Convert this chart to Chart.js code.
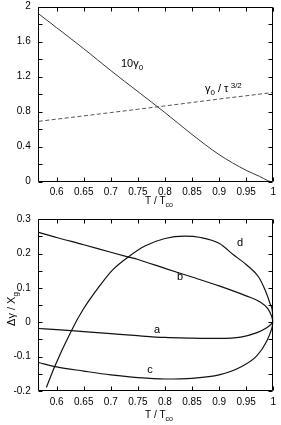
<!DOCTYPE html>
<html><head><meta charset="utf-8">
<script src="https://cdn.jsdelivr.net/npm/chart.js@4/dist/chart.umd.min.js"></script>
<style>
html,body{margin:0;padding:0;background:#fff;width:281px;height:425px;overflow:hidden}
#c1{position:absolute;left:0;top:0}
#c2{position:absolute;left:0;top:210px}
</style></head><body>
<canvas id="c1" width="281" height="210"></canvas>
<canvas id="c2" width="281" height="215"></canvas>
<script>
// ---- data ----
const gammaT  = [0.567,0.6,0.65,0.7,0.75,0.8,0.85,0.9,0.95,0.975,0.99,0.995];
const gamma10 = [1.917,1.76,1.52,1.27,1.03,0.79,0.54,0.31,0.13,0.06,0.012,0.0];
const ratioT  = [0.567,0.6,0.65,0.7,0.75,0.8,0.85,0.9,0.95,1.0];
const ratioV  = [0.69,0.715,0.752,0.79,0.828,0.866,0.905,0.945,0.982,1.02];

const aT = [0.567,0.6,0.65,0.7,0.75,0.8,0.85,0.9,0.94,0.97,0.988,1.0];
const aV = [-0.018,-0.021,-0.027,-0.033,-0.039,-0.044,-0.046,-0.047,-0.043,-0.03,-0.016,0.0];
const bT = [0.567,0.6,0.65,0.7,0.733,0.75,0.8,0.85,0.9,0.95,0.975,0.99,0.997,1.0];
const bV = [0.262,0.247,0.226,0.204,0.19,0.183,0.157,0.132,0.106,0.077,0.06,0.04,0.018,0.0];
const cT = [0.567,0.6,0.65,0.7,0.75,0.8,0.85,0.9,0.94,0.97,0.988,0.997,1.0];
const cV = [-0.117,-0.13,-0.142,-0.153,-0.161,-0.165,-0.163,-0.153,-0.13,-0.097,-0.055,-0.02,0.0];
const dT = [0.581,0.596,0.627,0.648,0.678,0.703,0.733,0.763,0.8,0.836,0.866,0.9,0.927,0.951,0.973,0.985,0.994,0.999,1.0];
const dV = [-0.19,-0.13,-0.025,0.035,0.103,0.152,0.191,0.222,0.244,0.251,0.247,0.23,0.196,0.167,0.132,0.094,0.055,0.025,0.0];

const xTicks = [0.6,0.65,0.7,0.75,0.8,0.85,0.9,0.95,1];
const xTickLabels = ['0.6','0.65','0.7','0.75','0.8','0.85','0.9','0.95','1'];
const yTicksTop = [0,0.2,0.4,0.6,0.8,1.0,1.2,1.4,1.6,1.8,2.0];
const yLabelsTop = {'0':'0','0.4':'0.4','0.8':'0.8','1.2':'1.2','1.6':'1.6','2':'2'};
const yTicksBot = [-0.2,-0.15,-0.1,-0.05,0,0.05,0.1,0.15,0.2,0.25,0.3];
const yLabelsBot = {'-0.2':'-0.2','-0.1':'-0.1','0':'0','0.1':'0.1','0.2':'0.2','0.3':'0.3'};

const X_MIN = 0.565, X_MAX = 1.0;
const FONT = 'Liberation Sans, Arial, sans-serif';

function pts(xs, ys){ return xs.map((x,i)=>({x:x,y:ys[i]})); }

function rich(ctx, parts, x, y, size, align){
  let w = 0;
  const widths = parts.map(p=>{ ctx.font = (p[1]?Math.round(size*0.72):size)+'px '+FONT; const m=ctx.measureText(p[0]).width; w+=m; return m;});
  let cx = align==='center' ? x - w/2 : x;
  ctx.textBaseline = 'alphabetic'; ctx.textAlign='left'; ctx.fillStyle='#000';
  parts.forEach((p,i)=>{
    ctx.font = (p[1]?Math.round(size*0.72):size)+'px '+FONT;
    const dy = p[1]===1 ? size*0.3 : (p[1]===-1 ? -size*0.4 : 0);
    ctx.fillText(p[0], cx, y+dy);
    cx += widths[i];
  });
}

const framePlugin = {
  id:'frame',
  afterDraw(chart, args, opts){
    const ctx = chart.ctx, a = chart.chartArea, xs = chart.scales.x, ys = chart.scales.y;
    ctx.save();
    ctx.strokeStyle = '#000'; ctx.lineWidth = 1;
    ctx.beginPath();
    const L=Math.round(a.left)+0.5, R=Math.round(a.right)-0.5, T=Math.round(a.top)+0.5, B=Math.round(a.bottom)-0.5;
    ctx.rect(L,T,R-L,B-T);
    const tl = 4;
    xs.ticks.forEach(t=>{ const px=Math.round(xs.getPixelForValue(t.value))+0.5;
      ctx.moveTo(px,B); ctx.lineTo(px,B-tl); ctx.moveTo(px,T); ctx.lineTo(px,T+tl); });
    ys.ticks.forEach(t=>{ const py=Math.round(ys.getPixelForValue(t.value))+0.5;
      ctx.moveTo(L,py); ctx.lineTo(L+tl,py); ctx.moveTo(R,py); ctx.lineTo(R-tl,py); });
    ctx.stroke();
    if (opts.draw) opts.draw(chart, ctx);
    ctx.restore();
  }
};

function baseOptions(yMin, yMax, yTicks, yLabels, xH, padTop, drawFn){
  return {
    responsive:false, animation:false, devicePixelRatio:1,
    layout:{padding:{top:padTop,right:3.3,left:0,bottom:0}},
    plugins:{legend:{display:false}, tooltip:{enabled:false}, frame:{draw:drawFn}},
    elements:{point:{radius:0}, line:{tension:0.35, cubicInterpolationMode:'monotone'}},
    scales:{
      x:{type:'linear', min:X_MIN, max:X_MAX,
         afterBuildTicks:s=>{ s.ticks = xTicks.map(v=>({value:v})); },
         afterFit:s=>{ s.height = xH; },
         grid:{display:false, drawTicks:false}, border:{display:false},
         ticks:{padding:5, color:'#000', font:{family:FONT,size:10}, maxRotation:0, autoSkip:false,
           callback:(v)=>{ const i=xTicks.findIndex(t=>Math.abs(t-v)<1e-9); return i>=0?xTickLabels[i]:''; }}},
      y:{type:'linear', min:yMin, max:yMax,
         afterBuildTicks:s=>{ s.ticks = yTicks.map(v=>({value:v})); },
         afterFit:s=>{ s.width = 37.7; s.paddingTop = 0; },
         grid:{display:false, drawTicks:false}, border:{display:false},
         ticks:{padding:7, color:'#000', font:{family:FONT,size:10}, autoSkip:false,
           callback:(v)=>{ const k=String(Math.round(v*100)/100); return yLabels[k]!==undefined?yLabels[k]:''; }}}
    }
  };
}

new Chart(document.getElementById('c1'), {
  type:'line',
  data:{datasets:[
    {data:pts(gammaT,gamma10), borderColor:'#3a3a3a', borderWidth:1, fill:false},
    {data:pts(ratioT,ratioV), borderColor:'#555', borderWidth:1, borderDash:[4,2.5], fill:false}
  ]},
  options: baseOptions(0, 2, yTicksTop, yLabelsTop, 28.3, 6.7, (chart,ctx)=>{
    rich(ctx, [['10γ',0],['0',1]], 121, 67, 11, 'left');
    rich(ctx, [['γ',0],['0',1],[' / τ',0],[' 3/2',-1]], 205, 92, 11, 'left');
    rich(ctx, [['T / T',0],['co',1]], 159, 204, 10, 'center');
  }),
  plugins:[framePlugin]
});

new Chart(document.getElementById('c2'), {
  type:'line',
  data:{datasets:[
    {data:pts(aT,aV), borderColor:'#111', borderWidth:1.2, fill:false},
    {data:pts(bT,bV), borderColor:'#111', borderWidth:1.2, fill:false},
    {data:pts(cT,cV), borderColor:'#111', borderWidth:1.2, fill:false},
    {data:pts(dT,dV), borderColor:'#111', borderWidth:1.2, fill:false}
  ]},
  options: baseOptions(-0.2, 0.3, yTicksBot, yLabelsBot, 34, 9.3, (chart,ctx)=>{
    ctx.font = '11px '+FONT; ctx.fillStyle='#000'; ctx.textAlign='center'; ctx.textBaseline='middle';
    ctx.fillText('d', 240, 33);
    ctx.fillText('b', 180, 67);
    ctx.fillText('a', 157, 120);
    ctx.fillText('c', 150, 160);
    rich(ctx, [['T / T',0],['co',1]], 159, 208, 10, 'center');
    ctx.save();
    ctx.translate(15, 99);
    ctx.rotate(-Math.PI/2);
    rich(ctx, [['Δγ / X',0],['g',1]], 0, 0, 11, 'center');
    ctx.restore();
  }),
  plugins:[framePlugin]
});
</script>
</body></html>
